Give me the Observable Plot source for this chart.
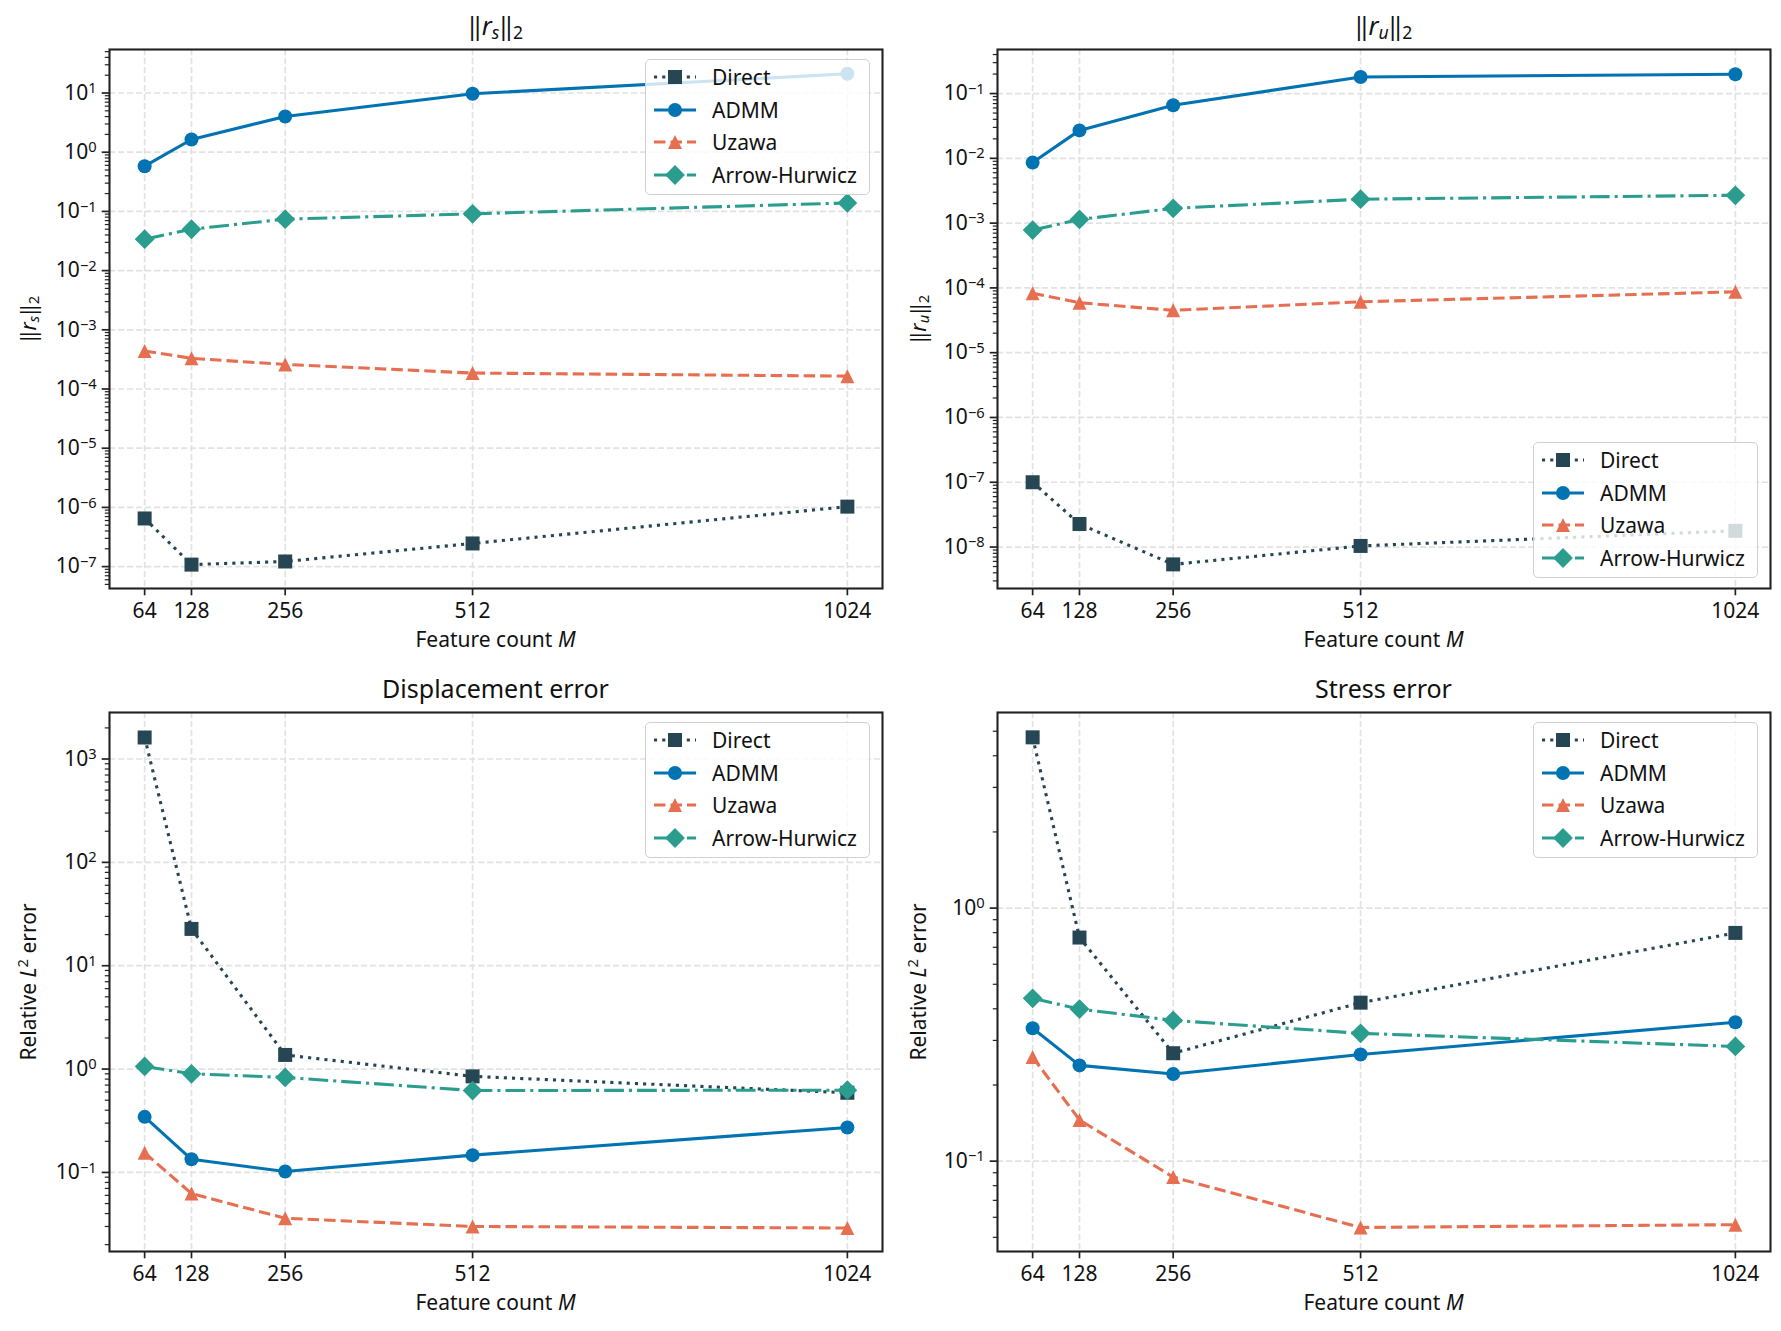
<!DOCTYPE html>
<html>
<head>
<meta charset="utf-8">
<script src="https://cdn.jsdelivr.net/npm/d3@7"></script>
<script src="https://cdn.jsdelivr.net/npm/@observablehq/plot@0.6"></script>
<style>
  html, body { margin: 0; padding: 0; background: #fff; }
  #fig { position: relative; width: 1781px; height: 1331px; background: #fff; font-family: "Noto Sans", "DejaVu Sans", sans-serif; color: #111; overflow: hidden; }
  .abs { position: absolute; }
  .title { font-size: 25px; line-height: 1; text-align: center; white-space: nowrap; }
  .xlabel { font-size: 21px; line-height: 1; text-align: center; white-space: nowrap; }
  .ylabel { font-size: 21px; line-height: 1; white-space: nowrap; transform: translate(-50%, -50%) rotate(-90deg); }
  sub { font-size: 0.7em; vertical-align: -0.22em; line-height: 0; }
  sup { font-size: 0.7em; vertical-align: 0.5em; line-height: 0; }
  .legend { box-sizing: border-box; width: 225px; height: 136px; background: rgba(255,255,255,0.8); border: 1.5px solid #d0d0d0; border-radius: 5px; }
  .lrow { position: absolute; left: 0; height: 22px; width: 100%; font-size: 21px; line-height: 22px; }
  .lrow svg { position: absolute; left: 7px; top: 0; }
  .lrow span { position: absolute; left: 66px; top: 0; white-space: nowrap; }
</style>
</head>
<body>
<div id="fig"></div>
<script>
// ---------------- data ----------------
const M = [64, 128, 256, 512, 1024];
const methods = ["Direct", "ADMM", "Uzawa", "Arrow-Hurwicz"];

// ||r_s||_2
const rsDirect = [6.5e-7, 1.08e-7, 1.22e-7, 2.46e-7, 1.03e-6];
const rsADMM   = [0.58, 1.64, 4.0, 9.7, 21.1];
const rsUzawa  = [4.4e-4, 3.3e-4, 2.6e-4, 1.86e-4, 1.65e-4];
const rsAH     = [0.034, 0.050, 0.074, 0.091, 0.139];

// ||r_u||_2
const ruDirect = [1.0e-7, 2.27e-8, 5.4e-9, 1.04e-8, 1.78e-8];
const ruADMM   = [0.0086, 0.027, 0.066, 0.18, 0.199];
const ruUzawa  = [8.3e-5, 5.9e-5, 4.5e-5, 6.1e-5, 8.7e-5];
const ruAH     = [7.8e-4, 1.14e-3, 1.69e-3, 2.34e-3, 2.69e-3];

// Displacement error
const dispDirect = [1615, 22.7, 1.37, 0.85, 0.59];
const dispADMM   = [0.345, 0.134, 0.102, 0.147, 0.272];
const dispUzawa  = [0.155, 0.0625, 0.036, 0.030, 0.029];
const dispAH     = [1.06, 0.90, 0.83, 0.62, 0.625];

// Stress error
const strDirect = [4.73, 0.765, 0.267, 0.423, 0.798];
const strADMM   = [0.335, 0.239, 0.221, 0.264, 0.354];
const strUzawa  = [0.258, 0.1455, 0.0865, 0.0547, 0.0561];
const strAH     = [0.44, 0.399, 0.360, 0.320, 0.284];

// y tick exponents (major ticks are 10^e)
const rsExps   = [-7, -6, -5, -4, -3, -2, -1, 0, 1];
const ruExps   = [-8, -7, -6, -5, -4, -3, -2, -1];
const dispExps = [-1, 0, 1, 2, 3];
const strExps  = [-1, 0];

// ---------------- styles ----------------
const LW = 3.1, MR = 7;
const symSquare = { draw(c, s) { const h = Math.sqrt(s / Math.PI); c.rect(-h, -h, 2 * h, 2 * h); } };
const symCircle = { draw(c, s) { const h = Math.sqrt(s / Math.PI); c.moveTo(h, 0); c.arc(0, 0, h, 0, 2 * Math.PI); c.closePath(); } };
const symTri = { draw(c, s) { const h = Math.sqrt(s / Math.PI); c.moveTo(0, -h); c.lineTo(h, h); c.lineTo(-h, h); c.closePath(); } };
const symDiamond = { draw(c, s) { const h = Math.sqrt(s / Math.PI) * Math.SQRT2; c.moveTo(0, -h); c.lineTo(h, 0); c.lineTo(0, h); c.lineTo(-h, 0); c.closePath(); } };

const STYLE = {
  "Direct":        { color: "#264653", dash: "3.1,5.1", symbol: symSquare },
  "ADMM":          { color: "#0173B2", dash: null, symbol: symCircle },
  "Uzawa":         { color: "#E76F51", dash: "11.5,5", symbol: symTri },
  "Arrow-Hurwicz": { color: "#2A9D8F", dash: "19.8,5,3.1,5", symbol: symDiamond }
};

const FONT = '"Noto Sans", "DejaVu Sans", sans-serif';
const svgNS = "http://www.w3.org/2000/svg";
const fig = document.getElementById("fig");

const panels = [
  { left: 0,   top: 0,   w: 890, h: 665, ml: 109, mr: 8,  mt: 49, mb: 77,
    ydom: [10 ** -7.37, 10 ** 1.735], exps: rsExps,
    series: { "Direct": rsDirect, "ADMM": rsADMM, "Uzawa": rsUzawa, "Arrow-Hurwicz": rsAH },
    title: '‖<i>r</i><sub><i>s</i></sub>‖<sub>2</sub>', ylabel: '‖<i>r</i><sub><i>s</i></sub>‖<sub>2</sub>', legend: "tr" },
  { left: 890, top: 0,   w: 891, h: 665, ml: 107, mr: 11, mt: 49, mb: 77,
    ydom: [10 ** -8.64, 10 ** -0.32], exps: ruExps,
    series: { "Direct": ruDirect, "ADMM": ruADMM, "Uzawa": ruUzawa, "Arrow-Hurwicz": ruAH },
    title: '‖<i>r</i><sub><i>u</i></sub>‖<sub>2</sub>', ylabel: '‖<i>r</i><sub><i>u</i></sub>‖<sub>2</sub>', legend: "br" },
  { left: 0,   top: 665, w: 890, h: 666, ml: 109, mr: 8,  mt: 47, mb: 80,
    ydom: [10 ** -1.765, 10 ** 3.45], exps: dispExps,
    series: { "Direct": dispDirect, "ADMM": dispADMM, "Uzawa": dispUzawa, "Arrow-Hurwicz": dispAH },
    title: 'Displacement error', ylabel: 'Relative <i>L</i><sup>2</sup> error', legend: "tr" },
  { left: 890, top: 665, w: 891, h: 666, ml: 107, mr: 11, mt: 47, mb: 80,
    ydom: [10 ** -1.357, 10 ** 0.773], exps: strExps,
    series: { "Direct": strDirect, "ADMM": strADMM, "Uzawa": strUzawa, "Arrow-Hurwicz": strAH },
    title: 'Stress error', ylabel: 'Relative <i>L</i><sup>2</sup> error', legend: "tr" }
];

function symPath(sym, r) { const p = d3.path(); sym.draw(p, Math.PI * r * r); return p.toString(); }

function addDiv(cls, html, css) {
  const d = document.createElement("div");
  d.className = "abs " + cls;
  d.innerHTML = html;
  Object.assign(d.style, css);
  fig.appendChild(d);
  return d;
}

function makeLegend(left, top) {
  const box = addDiv("legend", "", { left: left + "px", top: top + "px" });
  const centers = [17, 49.7, 82.4, 115];
  methods.forEach((m, i) => {
    const st = STYLE[m];
    const row = document.createElement("div");
    row.className = "lrow";
    row.style.top = (centers[i] - 11) + "px";
    const sw = document.createElementNS(svgNS, "svg");
    sw.setAttribute("width", 44); sw.setAttribute("height", 22);
    const ln = document.createElementNS(svgNS, "line");
    ln.setAttribute("x1", 1); ln.setAttribute("x2", 43); ln.setAttribute("y1", 11); ln.setAttribute("y2", 11);
    ln.setAttribute("stroke", st.color); ln.setAttribute("stroke-width", LW);
    if (st.dash) ln.setAttribute("stroke-dasharray", st.dash);
    sw.appendChild(ln);
    const mk = document.createElementNS(svgNS, "path");
    mk.setAttribute("d", symPath(st.symbol, MR));
    mk.setAttribute("transform", "translate(22,11)");
    mk.setAttribute("fill", st.color);
    sw.appendChild(mk);
    row.appendChild(sw);
    const tx = document.createElement("span");
    tx.textContent = m;
    row.appendChild(tx);
    box.appendChild(row);
  });
}

function drawPanel(p) {
  const [lo, hi] = p.ydom;
  const major = p.exps.map(e => 10 ** e);
  const minor = [];
  for (let k = Math.floor(Math.log10(lo)); k <= Math.ceil(Math.log10(hi)); k++) {
    for (let m = 2; m <= 9; m++) { const v = m * 10 ** k; if (v >= lo && v <= hi) minor.push(v); }
  }
  const seriesMarks = methods.flatMap(m => {
    const st = STYLE[m];
    const d = M.map((x, i) => ({ method: m, x, y: p.series[m][i] }));
    return [
      Plot.line(d, { x: "x", y: "y", stroke: st.color, strokeWidth: LW, strokeDasharray: st.dash || undefined, strokeLinecap: "butt", strokeLinejoin: "round" }),
      Plot.dot(d, { x: "x", y: "y", symbol: st.symbol, r: MR, fill: st.color, stroke: "none" })
    ];
  });
  const gridStyle = { stroke: "#e2e2e2", strokeOpacity: 1, strokeWidth: 1.7, strokeDasharray: "6.2,2.8" };
  const svg = Plot.plot({
    width: p.w, height: p.h,
    marginLeft: p.ml, marginRight: p.mr, marginTop: p.mt, marginBottom: p.mb,
    x: { type: "linear", domain: [16, 1072], axis: null },
    y: { type: "log", domain: p.ydom, axis: null },
    style: { fontFamily: FONT, fontSize: "21px", color: "#111", background: "transparent", overflow: "visible" },
    marks: [
      Plot.gridX(M, gridStyle),
      Plot.gridY(major, gridStyle),
      Plot.axisX(M, { tickSize: 7.3, tickPadding: 7, stroke: "#222", strokeWidth: 1.7, tickFormat: d => String(d), label: null, fontSize: 21 }),
      Plot.axisY(major, { tickSize: 7.3, tickPadding: 5.5, stroke: "#222", strokeWidth: 1.7, tickFormat: d => "E" + Math.round(Math.log10(d)), label: null, fontSize: 21 }),
      Plot.axisY(minor, { tickSize: 4.2, stroke: "#222", strokeWidth: 1.2, fill: "none", tickFormat: () => "", label: null }),
      ...seriesMarks,
      Plot.frame({ stroke: "#222", strokeWidth: 2.1 })
    ]
  });
  svg.style.position = "absolute";
  svg.style.left = p.left + "px";
  svg.style.top = p.top + "px";
  fig.appendChild(svg);

  // mathtext-like exponent labels 10^e
  svg.querySelectorAll('g[aria-label="y-axis tick label"] text').forEach(t => {
    const s = t.textContent;
    if (!s.startsWith("E")) return;
    const e = s.slice(1).replace("-", "−");
    t.textContent = "10";
    const ts = document.createElementNS(svgNS, "tspan");
    ts.setAttribute("dy", "-0.45em");
    ts.setAttribute("font-size", "0.7em");
    ts.textContent = e;
    t.appendChild(ts);
  });

  const fl = p.left + p.ml, fr = p.left + p.w - p.mr;
  const ft = p.top + p.mt, fb = p.top + p.h - p.mb;
  addDiv("title", p.title, { left: fl + "px", width: (fr - fl) + "px", top: (ft - 36) + "px" });
  addDiv("xlabel", 'Feature count <i>M</i>', { left: fl + "px", width: (fr - fl) + "px", top: (fb + 41) + "px" });
  addDiv("ylabel", p.ylabel, { left: (p.left + 28) + "px", top: ((ft + fb) / 2) + "px" });

  if (p.legend === "tr") makeLegend(fr - 12 - 225, ft + 10);
  else makeLegend(fr - 12 - 225, fb - 10 - 136);
}

panels.forEach(drawPanel);
</script>
</body>
</html>
